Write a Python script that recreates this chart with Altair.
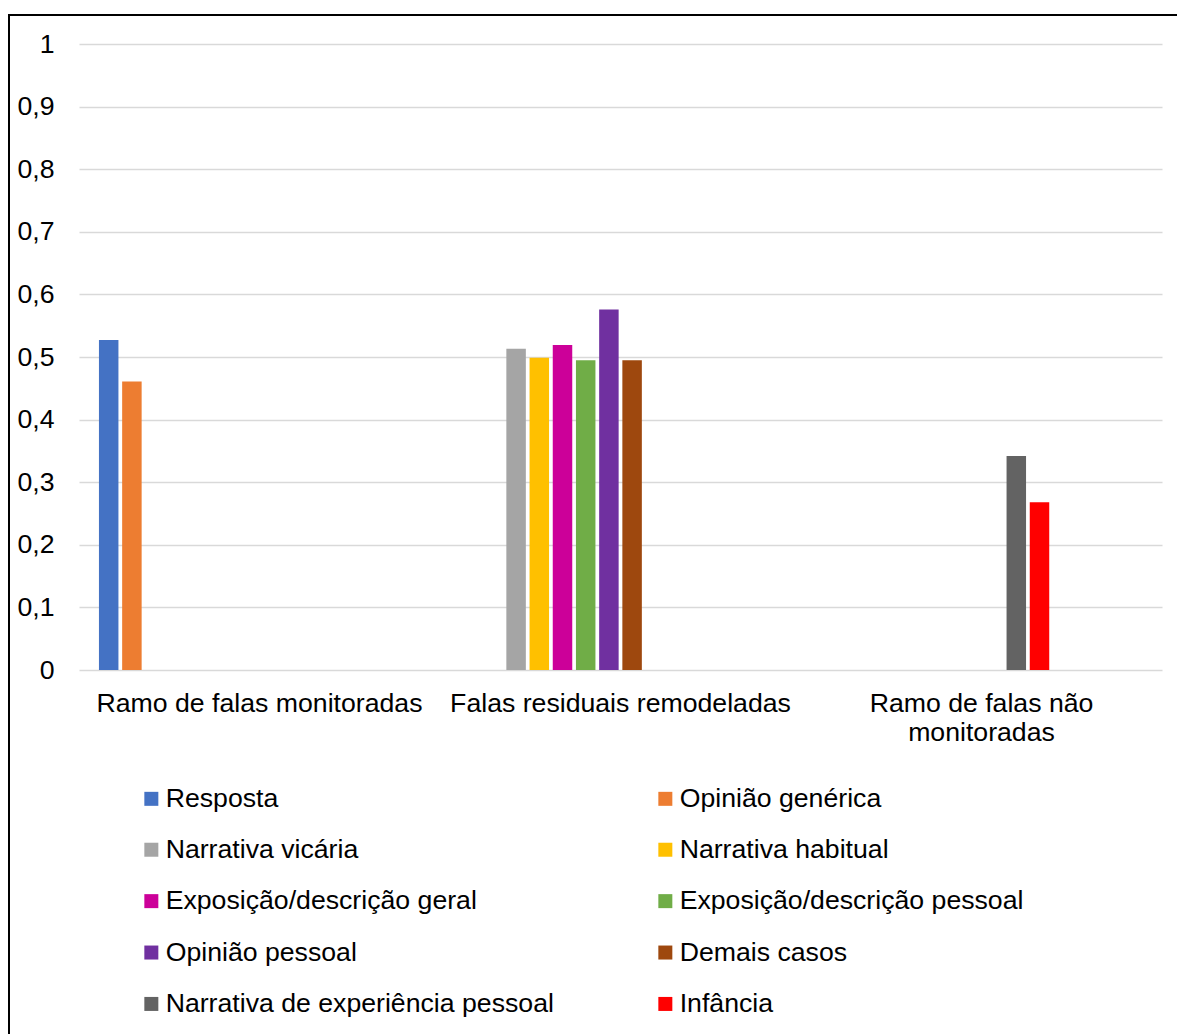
import altair as alt
import pandas as pd

# Categories on the horizontal axis ("\n" marks a line break in the label)
categories = [
    "Ramo de falas monitoradas",
    "Falas residuais remodeladas",
    "Ramo de falas não\nmonitoradas",
]

# Series, in legend order, with their colours
series = [
    "Resposta",
    "Opinião genérica",
    "Narrativa vicária",
    "Narrativa habitual",
    "Exposição/descrição geral",
    "Exposição/descrição pessoal",
    "Opinião pessoal",
    "Demais casos",
    "Narrativa de experiência pessoal",
    "Infância",
]
colors = [
    "#4472C4", "#ED7D31", "#A5A5A5", "#FFC000", "#CC0099",
    "#70AD47", "#7030A0", "#9E480E", "#636363", "#FF0000",
]

# Empty cluster slots that follow the ten series (keep the cluster spacing)
empty_slots = ["_s11", "_s12", "_s13", "_s14"]

# Which category each series belongs to, and its value
series_category = [0, 0, 1, 1, 1, 1, 1, 1, 2, 2]
values = [0.527, 0.461, 0.513, 0.499, 0.519, 0.495, 0.576, 0.495, 0.342, 0.268]

df = pd.DataFrame({
    "categoria": [categories[i] for i in series_category],
    "serie": series,
    "valor": values,
})

FONT = "Liberation Sans"
FS = 26.67
W, H = 1083, 626

bars = alt.Chart(df).mark_bar().encode(
    x=alt.X(
        "categoria:N",
        sort=categories,
        scale=alt.Scale(domain=categories, paddingInner=0, paddingOuter=0),
        axis=alt.Axis(
            title=None, labelAngle=0, ticks=False, domain=False,
            labelPadding=20, labelFontSize=FS, labelFont=FONT,
            labelColor="#000000", labelLineHeight=29, labelLimit=400,
            labelExpr="split(datum.label, '\\n')",
        ),
    ),
    xOffset=alt.XOffset(
        "serie:N",
        scale=alt.Scale(domain=series + empty_slots, paddingInner=0.16, paddingOuter=0.86),
    ),
    y=alt.Y(
        "valor:Q",
        scale=alt.Scale(domain=[0, 1], nice=False),
        axis=alt.Axis(
            title=None, values=[i / 10 for i in range(11)], ticks=False, domain=False,
            labelPadding=25, labelFontSize=FS, labelFont=FONT, labelColor="#000000",
            labelExpr="replace(format(datum.value, '~g'), '.', ',')",
            grid=True, gridColor="#D9D9D9", gridWidth=1.5,
        ),
    ),
    color=alt.Color(
        "serie:N",
        sort=series,
        scale=alt.Scale(domain=series, range=colors),
        legend=alt.Legend(
            title=None, orient="none", legendX=59, legendY=741,
            direction="horizontal", columns=2, columnPadding=98, rowPadding=23.4,
            symbolType="square", symbolSize=196, symbolStrokeWidth=0,
            labelFontSize=FS, labelFont=FONT, labelColor="#000000",
            labelOffset=1, labelLimit=500,
        ),
    ),
)

# Outer frame around the whole figure
frame = alt.Chart(pd.DataFrame({"k": [0]})).mark_rect(
    fill=None, stroke="#000000", strokeWidth=2, clip=False
).encode(
    x=alt.value(-70), x2=alt.value(1121),
    y=alt.value(-29), y2=alt.value(1056),
)

chart = alt.layer(bars, frame).properties(
    width=W, height=H,
    background="#FFFFFF",
    autosize=alt.AutoSizeParams(type="none"),
    padding={"left": 79, "top": 44, "right": 15, "bottom": 364},
).configure_view(stroke=None)

chart.save("out.html", embed_options={"renderer": "svg", "actions": False})
